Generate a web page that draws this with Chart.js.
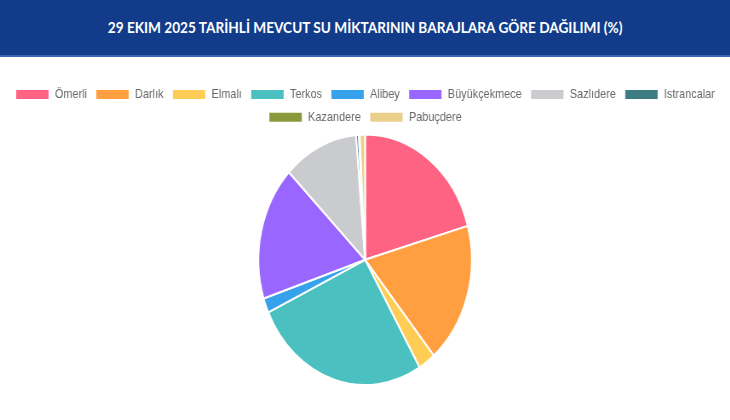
<!DOCTYPE html>
<html lang="tr">
<head>
<meta charset="utf-8">
<title>Barajlara Göre Dağılım</title>
<script src="https://cdn.jsdelivr.net/npm/chart.js@4.4.1/dist/chart.umd.min.js"></script>
<style>
    html, body { margin: 0; padding: 0; background: #fff; overflow: hidden; }
    #page {
        width: 857px;
        height: 420px;
        transform: scaleX(0.852);
        transform-origin: 0 0;
    }
    .header {
        height: 55px;
        background: #123c8a;
        border-bottom: 2px solid #3a67b5;
        color: #fff;
        font-family: Lato, "Open Sans", sans-serif;
        font-weight: 700;
        font-size: 16px;
        line-height: 54px;
        text-align: center;
    }
    .chart-box {
        position: relative;
        width: 857px;
        height: 308px;
        margin-top: 21px;
    }
</style>
</head>
<body>
<div id="page">
    <div class="header">29 EKIM 2025 TARİHLİ MEVCUT SU MİKTARININ BARAJLARA GÖRE DAĞILIMI (%)</div>
    <div class="chart-box">
        <canvas id="damChart"></canvas>
    </div>
</div>
<script>
// Baraj adları ve 29.10.2025 tarihli dağılım (%)
const damNames = ['Ömerli', 'Darlık', 'Elmalı', 'Terkos', 'Alibey', 'Büyükçekmece', 'Sazlıdere', 'Istrancalar', 'Kazandere', 'Pabuçdere'];
const damShares = [20.6, 18.2, 2.6, 26.6, 1.9, 17.3, 11.3, 0.4, 0.15, 0.8];
const damColors = ['#ff6384', '#ff9f40', '#ffcd56', '#4bc0c0', '#36a2eb', '#9966ff', '#c9cbcf', '#3e7c84', '#8a9a3b', '#ead08a'];

document.addEventListener('DOMContentLoaded', function() {
    const ctx = document.getElementById('damChart').getContext('2d');

    new Chart(ctx, {
        type: 'pie',
        data: {
            labels: damNames,
            datasets: [{
                data: damShares,
                backgroundColor: damColors,
                borderWidth: 2,
                borderColor: '#fff'
            }]
        },
        options: {
            responsive: true,
            maintainAspectRatio: false,
            animation: false,
            plugins: {
                legend: {
                    position: 'top',
                    labels: {
                        color: '#666',
                        boxHeight: 11,
                        font: { family: '"Liberation Sans", Arial, sans-serif', size: 12.8 }
                    }
                },
                tooltip: { enabled: false }
            }
        }
    });
});
</script>
</body>
</html>
